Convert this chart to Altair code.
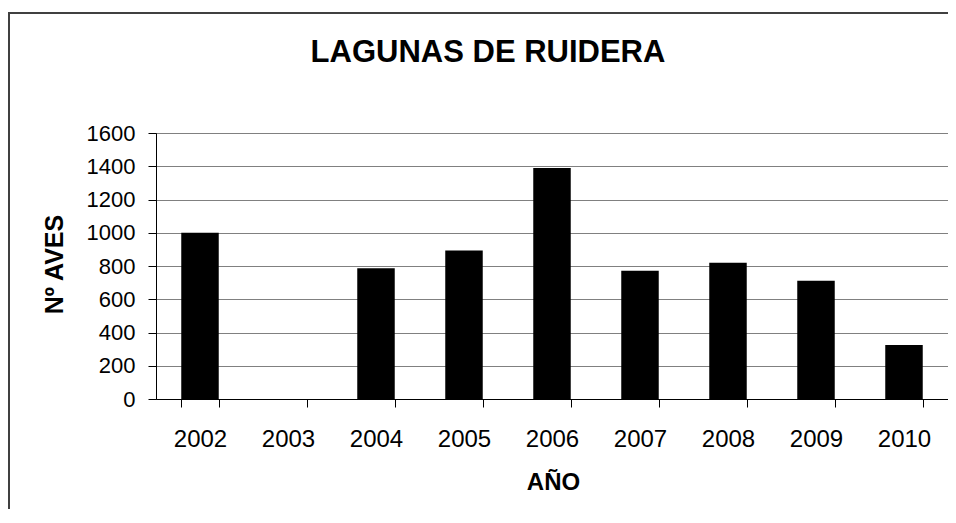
import altair as alt
import pandas as pd

years = ["2002", "2003", "2004", "2005", "2006", "2007", "2008", "2009", "2010"]
aves = [1000, 0, 787, 893, 1389, 771, 819, 711, 325]
y_ticks = [0, 200, 400, 600, 800, 1000, 1200, 1400, 1600]
chart_title = ["LAGUNAS DE RUIDERA"]

df = pd.DataFrame({"year": years, "aves": aves})
FONT = "Liberation Sans"
W, H = 792, 266

bars = alt.Chart(df).mark_bar(color="black").encode(
    x=alt.X(
        "year:N",
        sort=years,
        scale=alt.Scale(paddingInner=0.574, paddingOuter=0.287),
        axis=alt.Axis(
            title="AÑO",
            labelAngle=0,
            tickBand="extent",
            tickSize=8,
            labelPadding=39,
            labelBaseline="alphabetic",
            labelFontSize=24,
            titleFontSize=24,
            titleFontWeight="bold",
            titleBaseline="alphabetic",
            titleX=397,
            titleY=90,
            titleAnchor="middle",
            grid=False,
        ),
    ),
    y=alt.Y(
        "aves:Q",
        scale=alt.Scale(domain=[0, 1600]),
        axis=alt.Axis(
            title="Nº AVES",
            values=y_ticks,
            format="d",
            tickSize=8,
            labelPadding=13,
            labelFontSize=22,
            titleFontSize=25,
            titleFontWeight="bold",
            titleBaseline="alphabetic",
            titleX=-94,
            titleY=131,
            titleAngle=270,
            titleAnchor="middle",
            grid=True,
        ),
    ),
)

frame = alt.Chart(pd.DataFrame({"a": [0]})).mark_rect(
    fillOpacity=0, stroke="#404040", strokeWidth=2, clip=False
).encode(
    x=alt.value(-147), x2=alt.value(900), y=alt.value(-120), y2=alt.value(500)
)

title = alt.Chart(pd.DataFrame({"t": chart_title})).mark_text(
    font=FONT, fontSize=31, fontWeight="bold", align="center",
    baseline="alphabetic", color="black", clip=False
).encode(
    text="t:N", x=alt.value(332), y=alt.value(-71)
)

chart = alt.layer(frame, bars, title).properties(
    width=W,
    height=H,
    autosize="none",
    padding={"left": 148, "top": 125, "right": 0, "bottom": 110},
).configure(
    font=FONT,
    background="white",
).configure_view(
    stroke="#808080", strokeWidth=1
).configure_axis(
    labelFont=FONT,
    titleFont=FONT,
    labelColor="black",
    titleColor="black",
    domainColor="black",
    tickColor="black",
    gridColor="#808080",
    gridWidth=1,
    domainWidth=1,
    tickWidth=1,
)

chart.save("out.html", embed_options={"renderer": "svg", "actions": False})
